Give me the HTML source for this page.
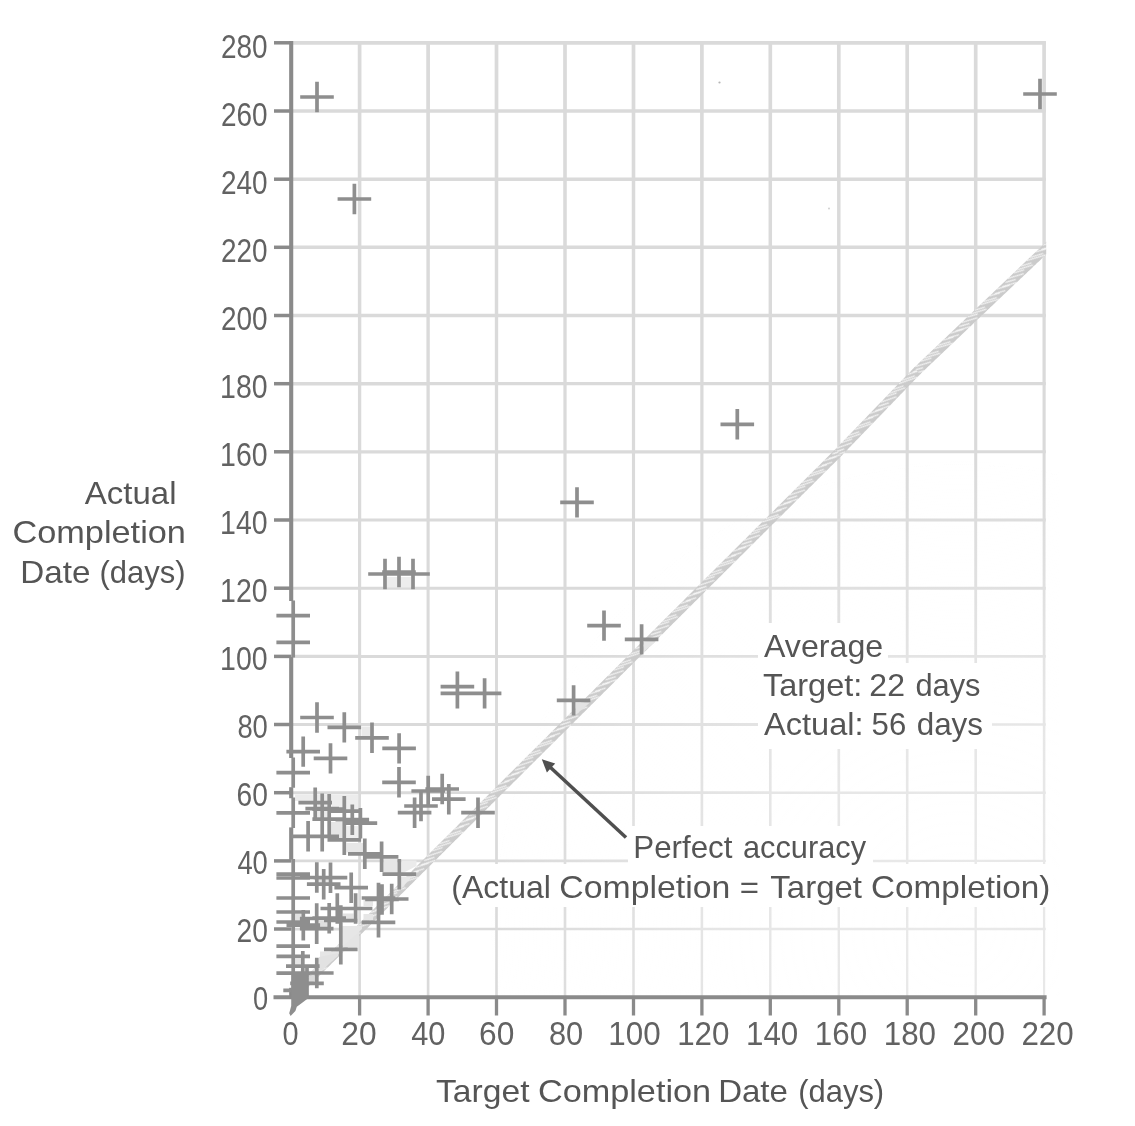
<!DOCTYPE html>
<html><head><meta charset="utf-8"><title>Chart</title>
<style>
html,body{margin:0;padding:0;background:#fff;}
body{width:1135px;height:1126px;overflow:hidden;font-family:"Liberation Sans",sans-serif;}
svg{display:block;}
svg text{font-family:"Liberation Sans",sans-serif;}
</style></head><body>
<svg width="1135" height="1126" viewBox="0 0 1135 1126">
<defs><filter id="soft" x="-5%" y="-5%" width="110%" height="110%"><feGaussianBlur stdDeviation="0.75"/></filter>
<pattern id="rope" patternUnits="userSpaceOnUse" x="0" y="-4.5" width="64" height="9.0">
<rect width="64" height="9.0" fill="#cbcbcb"/>
<g stroke="#ffffff" stroke-width="1.15" stroke-linecap="butt" stroke-opacity="0.8"><line x1="1.0" y1="0.0" x2="15.9" y2="7.6"/><line x1="9.0" y1="0.0" x2="18.7" y2="5.0"/><line x1="13.5" y1="0.0" x2="28.4" y2="7.6"/><line x1="19.0" y1="0.0" x2="28.7" y2="5.0"/><line x1="27.0" y1="0.0" x2="44.5" y2="9.0"/><line x1="31.5" y1="0.0" x2="43.8" y2="6.3"/><line x1="39.5" y1="0.0" x2="49.2" y2="5.0"/><line x1="45.0" y1="2.0" x2="54.7" y2="7.0"/><line x1="49.5" y1="0.0" x2="61.8" y2="6.3"/><line x1="55.0" y1="2.0" x2="68.7" y2="9.0"/><line x1="60.5" y1="1.2" x2="70.2" y2="6.2"/><line x1="-9.0" y1="2.0" x2="4.7" y2="9.0"/><line x1="-3.5" y1="1.2" x2="6.2" y2="6.2"/></g></pattern>
<clipPath id="plotclip"><rect x="289" y="38" width="757.2" height="962"/></clipPath>
<radialGradient id="fade" gradientUnits="userSpaceOnUse" cx="960" cy="930" r="470">
<stop offset="0" stop-color="#ffffff" stop-opacity="0.42"/><stop offset="0.5" stop-color="#ffffff" stop-opacity="0.33"/><stop offset="1" stop-color="#ffffff" stop-opacity="0"/>
</radialGradient></defs>
<rect width="1135" height="1126" fill="#ffffff"/>
<g filter="url(#soft)">
<g stroke="#dadada" fill="none" stroke-linecap="butt">
<line x1="359.6" y1="928.7" x2="359.6" y2="997.5" stroke-width="2.69"/>
<line x1="359.6" y1="860.6" x2="359.6" y2="929.3" stroke-width="2.77"/>
<line x1="359.6" y1="792.4" x2="359.6" y2="861.2" stroke-width="2.85"/>
<line x1="359.6" y1="724.2" x2="359.6" y2="793.0" stroke-width="2.92"/>
<line x1="359.6" y1="656.1" x2="359.6" y2="724.8" stroke-width="3.00"/>
<line x1="359.6" y1="587.9" x2="359.6" y2="656.6" stroke-width="3.08"/>
<line x1="359.6" y1="519.7" x2="359.6" y2="588.5" stroke-width="3.16"/>
<line x1="359.6" y1="451.5" x2="359.6" y2="520.3" stroke-width="3.24"/>
<line x1="359.6" y1="383.4" x2="359.6" y2="452.1" stroke-width="3.32"/>
<line x1="359.6" y1="315.2" x2="359.6" y2="384.0" stroke-width="3.40"/>
<line x1="359.6" y1="247.0" x2="359.6" y2="315.8" stroke-width="3.48"/>
<line x1="359.6" y1="178.9" x2="359.6" y2="247.6" stroke-width="3.55"/>
<line x1="359.6" y1="110.7" x2="359.6" y2="179.5" stroke-width="3.63"/>
<line x1="359.6" y1="41.3" x2="359.6" y2="111.3" stroke-width="3.71"/>
<line x1="428.1" y1="928.7" x2="428.1" y2="997.5" stroke-width="2.64"/>
<line x1="428.1" y1="860.6" x2="428.1" y2="929.3" stroke-width="2.72"/>
<line x1="428.1" y1="792.4" x2="428.1" y2="861.2" stroke-width="2.81"/>
<line x1="428.1" y1="724.2" x2="428.1" y2="793.0" stroke-width="2.89"/>
<line x1="428.1" y1="656.1" x2="428.1" y2="724.8" stroke-width="2.97"/>
<line x1="428.1" y1="587.9" x2="428.1" y2="656.6" stroke-width="3.05"/>
<line x1="428.1" y1="519.7" x2="428.1" y2="588.5" stroke-width="3.13"/>
<line x1="428.1" y1="451.5" x2="428.1" y2="520.3" stroke-width="3.22"/>
<line x1="428.1" y1="383.4" x2="428.1" y2="452.1" stroke-width="3.30"/>
<line x1="428.1" y1="315.2" x2="428.1" y2="384.0" stroke-width="3.38"/>
<line x1="428.1" y1="247.0" x2="428.1" y2="315.8" stroke-width="3.46"/>
<line x1="428.1" y1="178.9" x2="428.1" y2="247.6" stroke-width="3.54"/>
<line x1="428.1" y1="110.7" x2="428.1" y2="179.5" stroke-width="3.63"/>
<line x1="428.1" y1="41.3" x2="428.1" y2="111.3" stroke-width="3.71"/>
<line x1="496.5" y1="928.7" x2="496.5" y2="997.5" stroke-width="2.59"/>
<line x1="496.5" y1="860.6" x2="496.5" y2="929.3" stroke-width="2.68"/>
<line x1="496.5" y1="792.4" x2="496.5" y2="861.2" stroke-width="2.76"/>
<line x1="496.5" y1="724.2" x2="496.5" y2="793.0" stroke-width="2.85"/>
<line x1="496.5" y1="656.1" x2="496.5" y2="724.8" stroke-width="2.94"/>
<line x1="496.5" y1="587.9" x2="496.5" y2="656.6" stroke-width="3.02"/>
<line x1="496.5" y1="519.7" x2="496.5" y2="588.5" stroke-width="3.11"/>
<line x1="496.5" y1="451.5" x2="496.5" y2="520.3" stroke-width="3.19"/>
<line x1="496.5" y1="383.4" x2="496.5" y2="452.1" stroke-width="3.28"/>
<line x1="496.5" y1="315.2" x2="496.5" y2="384.0" stroke-width="3.36"/>
<line x1="496.5" y1="247.0" x2="496.5" y2="315.8" stroke-width="3.45"/>
<line x1="496.5" y1="178.9" x2="496.5" y2="247.6" stroke-width="3.54"/>
<line x1="496.5" y1="110.7" x2="496.5" y2="179.5" stroke-width="3.62"/>
<line x1="496.5" y1="41.3" x2="496.5" y2="111.3" stroke-width="3.71"/>
<line x1="565.0" y1="928.7" x2="565.0" y2="997.5" stroke-width="2.54"/>
<line x1="565.0" y1="860.6" x2="565.0" y2="929.3" stroke-width="2.63"/>
<line x1="565.0" y1="792.4" x2="565.0" y2="861.2" stroke-width="2.72"/>
<line x1="565.0" y1="724.2" x2="565.0" y2="793.0" stroke-width="2.81"/>
<line x1="565.0" y1="656.1" x2="565.0" y2="724.8" stroke-width="2.90"/>
<line x1="565.0" y1="587.9" x2="565.0" y2="656.6" stroke-width="2.99"/>
<line x1="565.0" y1="519.7" x2="565.0" y2="588.5" stroke-width="3.08"/>
<line x1="565.0" y1="451.5" x2="565.0" y2="520.3" stroke-width="3.17"/>
<line x1="565.0" y1="383.4" x2="565.0" y2="452.1" stroke-width="3.26"/>
<line x1="565.0" y1="315.2" x2="565.0" y2="384.0" stroke-width="3.35"/>
<line x1="565.0" y1="247.0" x2="565.0" y2="315.8" stroke-width="3.44"/>
<line x1="565.0" y1="178.9" x2="565.0" y2="247.6" stroke-width="3.53"/>
<line x1="565.0" y1="110.7" x2="565.0" y2="179.5" stroke-width="3.62"/>
<line x1="565.0" y1="41.3" x2="565.0" y2="111.3" stroke-width="3.71"/>
<line x1="633.5" y1="928.7" x2="633.5" y2="997.5" stroke-width="2.50"/>
<line x1="633.5" y1="860.6" x2="633.5" y2="929.3" stroke-width="2.59"/>
<line x1="633.5" y1="792.4" x2="633.5" y2="861.2" stroke-width="2.68"/>
<line x1="633.5" y1="724.2" x2="633.5" y2="793.0" stroke-width="2.77"/>
<line x1="633.5" y1="656.1" x2="633.5" y2="724.8" stroke-width="2.87"/>
<line x1="633.5" y1="587.9" x2="633.5" y2="656.6" stroke-width="2.96"/>
<line x1="633.5" y1="519.7" x2="633.5" y2="588.5" stroke-width="3.05"/>
<line x1="633.5" y1="451.5" x2="633.5" y2="520.3" stroke-width="3.15"/>
<line x1="633.5" y1="383.4" x2="633.5" y2="452.1" stroke-width="3.24"/>
<line x1="633.5" y1="315.2" x2="633.5" y2="384.0" stroke-width="3.33"/>
<line x1="633.5" y1="247.0" x2="633.5" y2="315.8" stroke-width="3.43"/>
<line x1="633.5" y1="178.9" x2="633.5" y2="247.6" stroke-width="3.52"/>
<line x1="633.5" y1="110.7" x2="633.5" y2="179.5" stroke-width="3.61"/>
<line x1="633.5" y1="41.3" x2="633.5" y2="111.3" stroke-width="3.70"/>
<line x1="701.9" y1="928.7" x2="701.9" y2="997.5" stroke-width="2.45"/>
<line x1="701.9" y1="860.6" x2="701.9" y2="929.3" stroke-width="2.54"/>
<line x1="701.9" y1="792.4" x2="701.9" y2="861.2" stroke-width="2.64"/>
<line x1="701.9" y1="724.2" x2="701.9" y2="793.0" stroke-width="2.74"/>
<line x1="701.9" y1="656.1" x2="701.9" y2="724.8" stroke-width="2.83"/>
<line x1="701.9" y1="587.9" x2="701.9" y2="656.6" stroke-width="2.93"/>
<line x1="701.9" y1="519.7" x2="701.9" y2="588.5" stroke-width="3.03"/>
<line x1="701.9" y1="451.5" x2="701.9" y2="520.3" stroke-width="3.12"/>
<line x1="701.9" y1="383.4" x2="701.9" y2="452.1" stroke-width="3.22"/>
<line x1="701.9" y1="315.2" x2="701.9" y2="384.0" stroke-width="3.32"/>
<line x1="701.9" y1="247.0" x2="701.9" y2="315.8" stroke-width="3.41"/>
<line x1="701.9" y1="178.9" x2="701.9" y2="247.6" stroke-width="3.51"/>
<line x1="701.9" y1="110.7" x2="701.9" y2="179.5" stroke-width="3.61"/>
<line x1="701.9" y1="41.3" x2="701.9" y2="111.3" stroke-width="3.70"/>
<line x1="770.3" y1="928.7" x2="770.3" y2="997.5" stroke-width="2.40"/>
<line x1="770.3" y1="860.6" x2="770.3" y2="929.3" stroke-width="2.50"/>
<line x1="770.3" y1="792.4" x2="770.3" y2="861.2" stroke-width="2.60"/>
<line x1="770.3" y1="724.2" x2="770.3" y2="793.0" stroke-width="2.70"/>
<line x1="770.3" y1="656.1" x2="770.3" y2="724.8" stroke-width="2.80"/>
<line x1="770.3" y1="587.9" x2="770.3" y2="656.6" stroke-width="2.90"/>
<line x1="770.3" y1="519.7" x2="770.3" y2="588.5" stroke-width="3.00"/>
<line x1="770.3" y1="451.5" x2="770.3" y2="520.3" stroke-width="3.10"/>
<line x1="770.3" y1="383.4" x2="770.3" y2="452.1" stroke-width="3.20"/>
<line x1="770.3" y1="315.2" x2="770.3" y2="384.0" stroke-width="3.30"/>
<line x1="770.3" y1="247.0" x2="770.3" y2="315.8" stroke-width="3.40"/>
<line x1="770.3" y1="178.9" x2="770.3" y2="247.6" stroke-width="3.50"/>
<line x1="770.3" y1="110.7" x2="770.3" y2="179.5" stroke-width="3.60"/>
<line x1="770.3" y1="41.3" x2="770.3" y2="111.3" stroke-width="3.70"/>
<line x1="838.8" y1="928.7" x2="838.8" y2="997.5" stroke-width="2.35"/>
<line x1="838.8" y1="860.6" x2="838.8" y2="929.3" stroke-width="2.46"/>
<line x1="838.8" y1="792.4" x2="838.8" y2="861.2" stroke-width="2.56"/>
<line x1="838.8" y1="724.2" x2="838.8" y2="793.0" stroke-width="2.66"/>
<line x1="838.8" y1="656.1" x2="838.8" y2="724.8" stroke-width="2.77"/>
<line x1="838.8" y1="587.9" x2="838.8" y2="656.6" stroke-width="2.87"/>
<line x1="838.8" y1="519.7" x2="838.8" y2="588.5" stroke-width="2.97"/>
<line x1="838.8" y1="451.5" x2="838.8" y2="520.3" stroke-width="3.08"/>
<line x1="838.8" y1="383.4" x2="838.8" y2="452.1" stroke-width="3.18"/>
<line x1="838.8" y1="315.2" x2="838.8" y2="384.0" stroke-width="3.28"/>
<line x1="838.8" y1="247.0" x2="838.8" y2="315.8" stroke-width="3.39"/>
<line x1="838.8" y1="178.9" x2="838.8" y2="247.6" stroke-width="3.49"/>
<line x1="838.8" y1="110.7" x2="838.8" y2="179.5" stroke-width="3.59"/>
<line x1="838.8" y1="41.3" x2="838.8" y2="111.3" stroke-width="3.70"/>
<line x1="907.2" y1="928.7" x2="907.2" y2="997.5" stroke-width="2.30"/>
<line x1="907.2" y1="860.6" x2="907.2" y2="929.3" stroke-width="2.41"/>
<line x1="907.2" y1="792.4" x2="907.2" y2="861.2" stroke-width="2.52"/>
<line x1="907.2" y1="724.2" x2="907.2" y2="793.0" stroke-width="2.62"/>
<line x1="907.2" y1="656.1" x2="907.2" y2="724.8" stroke-width="2.73"/>
<line x1="907.2" y1="587.9" x2="907.2" y2="656.6" stroke-width="2.84"/>
<line x1="907.2" y1="519.7" x2="907.2" y2="588.5" stroke-width="2.95"/>
<line x1="907.2" y1="451.5" x2="907.2" y2="520.3" stroke-width="3.05"/>
<line x1="907.2" y1="383.4" x2="907.2" y2="452.1" stroke-width="3.16"/>
<line x1="907.2" y1="315.2" x2="907.2" y2="384.0" stroke-width="3.27"/>
<line x1="907.2" y1="247.0" x2="907.2" y2="315.8" stroke-width="3.38"/>
<line x1="907.2" y1="178.9" x2="907.2" y2="247.6" stroke-width="3.48"/>
<line x1="907.2" y1="110.7" x2="907.2" y2="179.5" stroke-width="3.59"/>
<line x1="907.2" y1="41.3" x2="907.2" y2="111.3" stroke-width="3.70"/>
<line x1="975.7" y1="928.7" x2="975.7" y2="997.5" stroke-width="2.26"/>
<line x1="975.7" y1="860.6" x2="975.7" y2="929.3" stroke-width="2.37"/>
<line x1="975.7" y1="792.4" x2="975.7" y2="861.2" stroke-width="2.48"/>
<line x1="975.7" y1="724.2" x2="975.7" y2="793.0" stroke-width="2.59"/>
<line x1="975.7" y1="656.1" x2="975.7" y2="724.8" stroke-width="2.70"/>
<line x1="975.7" y1="587.9" x2="975.7" y2="656.6" stroke-width="2.81"/>
<line x1="975.7" y1="519.7" x2="975.7" y2="588.5" stroke-width="2.92"/>
<line x1="975.7" y1="451.5" x2="975.7" y2="520.3" stroke-width="3.03"/>
<line x1="975.7" y1="383.4" x2="975.7" y2="452.1" stroke-width="3.14"/>
<line x1="975.7" y1="315.2" x2="975.7" y2="384.0" stroke-width="3.25"/>
<line x1="975.7" y1="247.0" x2="975.7" y2="315.8" stroke-width="3.36"/>
<line x1="975.7" y1="178.9" x2="975.7" y2="247.6" stroke-width="3.47"/>
<line x1="975.7" y1="110.7" x2="975.7" y2="179.5" stroke-width="3.58"/>
<line x1="975.7" y1="41.3" x2="975.7" y2="111.3" stroke-width="3.70"/>
<line x1="1044.1" y1="928.7" x2="1044.1" y2="997.5" stroke-width="2.21"/>
<line x1="1044.1" y1="860.6" x2="1044.1" y2="929.3" stroke-width="2.32"/>
<line x1="1044.1" y1="792.4" x2="1044.1" y2="861.2" stroke-width="2.44"/>
<line x1="1044.1" y1="724.2" x2="1044.1" y2="793.0" stroke-width="2.55"/>
<line x1="1044.1" y1="656.1" x2="1044.1" y2="724.8" stroke-width="2.66"/>
<line x1="1044.1" y1="587.9" x2="1044.1" y2="656.6" stroke-width="2.78"/>
<line x1="1044.1" y1="519.7" x2="1044.1" y2="588.5" stroke-width="2.89"/>
<line x1="1044.1" y1="451.5" x2="1044.1" y2="520.3" stroke-width="3.01"/>
<line x1="1044.1" y1="383.4" x2="1044.1" y2="452.1" stroke-width="3.12"/>
<line x1="1044.1" y1="315.2" x2="1044.1" y2="384.0" stroke-width="3.24"/>
<line x1="1044.1" y1="247.0" x2="1044.1" y2="315.8" stroke-width="3.35"/>
<line x1="1044.1" y1="178.9" x2="1044.1" y2="247.6" stroke-width="3.46"/>
<line x1="1044.1" y1="110.7" x2="1044.1" y2="179.5" stroke-width="3.58"/>
<line x1="1044.1" y1="41.3" x2="1044.1" y2="111.3" stroke-width="3.69"/>
<line x1="290.9" y1="929.0" x2="359.9" y2="929.0" stroke-width="2.75"/>
<line x1="359.3" y1="929.0" x2="428.4" y2="929.0" stroke-width="2.71"/>
<line x1="427.8" y1="929.0" x2="496.8" y2="929.0" stroke-width="2.66"/>
<line x1="496.2" y1="929.0" x2="565.3" y2="929.0" stroke-width="2.61"/>
<line x1="564.7" y1="929.0" x2="633.8" y2="929.0" stroke-width="2.57"/>
<line x1="633.2" y1="929.0" x2="702.2" y2="929.0" stroke-width="2.52"/>
<line x1="701.6" y1="929.0" x2="770.6" y2="929.0" stroke-width="2.47"/>
<line x1="770.0" y1="929.0" x2="839.1" y2="929.0" stroke-width="2.43"/>
<line x1="838.5" y1="929.0" x2="907.5" y2="929.0" stroke-width="2.38"/>
<line x1="907.0" y1="929.0" x2="976.0" y2="929.0" stroke-width="2.33"/>
<line x1="975.4" y1="929.0" x2="1045.8" y2="929.0" stroke-width="2.29"/>
<line x1="290.9" y1="860.9" x2="359.9" y2="860.9" stroke-width="2.83"/>
<line x1="359.3" y1="860.9" x2="428.4" y2="860.9" stroke-width="2.79"/>
<line x1="427.8" y1="860.9" x2="496.8" y2="860.9" stroke-width="2.74"/>
<line x1="496.2" y1="860.9" x2="565.3" y2="860.9" stroke-width="2.70"/>
<line x1="564.7" y1="860.9" x2="633.8" y2="860.9" stroke-width="2.66"/>
<line x1="633.2" y1="860.9" x2="702.2" y2="860.9" stroke-width="2.61"/>
<line x1="701.6" y1="860.9" x2="770.6" y2="860.9" stroke-width="2.57"/>
<line x1="770.0" y1="860.9" x2="839.1" y2="860.9" stroke-width="2.53"/>
<line x1="838.5" y1="860.9" x2="907.5" y2="860.9" stroke-width="2.49"/>
<line x1="907.0" y1="860.9" x2="976.0" y2="860.9" stroke-width="2.44"/>
<line x1="975.4" y1="860.9" x2="1045.8" y2="860.9" stroke-width="2.40"/>
<line x1="290.9" y1="792.7" x2="359.9" y2="792.7" stroke-width="2.91"/>
<line x1="359.3" y1="792.7" x2="428.4" y2="792.7" stroke-width="2.87"/>
<line x1="427.8" y1="792.7" x2="496.8" y2="792.7" stroke-width="2.83"/>
<line x1="496.2" y1="792.7" x2="565.3" y2="792.7" stroke-width="2.79"/>
<line x1="564.7" y1="792.7" x2="633.8" y2="792.7" stroke-width="2.75"/>
<line x1="633.2" y1="792.7" x2="702.2" y2="792.7" stroke-width="2.71"/>
<line x1="701.6" y1="792.7" x2="770.6" y2="792.7" stroke-width="2.67"/>
<line x1="770.0" y1="792.7" x2="839.1" y2="792.7" stroke-width="2.63"/>
<line x1="838.5" y1="792.7" x2="907.5" y2="792.7" stroke-width="2.59"/>
<line x1="907.0" y1="792.7" x2="976.0" y2="792.7" stroke-width="2.55"/>
<line x1="975.4" y1="792.7" x2="1045.8" y2="792.7" stroke-width="2.51"/>
<line x1="290.9" y1="724.5" x2="359.9" y2="724.5" stroke-width="2.98"/>
<line x1="359.3" y1="724.5" x2="428.4" y2="724.5" stroke-width="2.95"/>
<line x1="427.8" y1="724.5" x2="496.8" y2="724.5" stroke-width="2.91"/>
<line x1="496.2" y1="724.5" x2="565.3" y2="724.5" stroke-width="2.87"/>
<line x1="564.7" y1="724.5" x2="633.8" y2="724.5" stroke-width="2.84"/>
<line x1="633.2" y1="724.5" x2="702.2" y2="724.5" stroke-width="2.80"/>
<line x1="701.6" y1="724.5" x2="770.6" y2="724.5" stroke-width="2.77"/>
<line x1="770.0" y1="724.5" x2="839.1" y2="724.5" stroke-width="2.73"/>
<line x1="838.5" y1="724.5" x2="907.5" y2="724.5" stroke-width="2.70"/>
<line x1="907.0" y1="724.5" x2="976.0" y2="724.5" stroke-width="2.66"/>
<line x1="975.4" y1="724.5" x2="1045.8" y2="724.5" stroke-width="2.62"/>
<line x1="290.9" y1="656.4" x2="359.9" y2="656.4" stroke-width="3.06"/>
<line x1="359.3" y1="656.4" x2="428.4" y2="656.4" stroke-width="3.03"/>
<line x1="427.8" y1="656.4" x2="496.8" y2="656.4" stroke-width="2.99"/>
<line x1="496.2" y1="656.4" x2="565.3" y2="656.4" stroke-width="2.96"/>
<line x1="564.7" y1="656.4" x2="633.8" y2="656.4" stroke-width="2.93"/>
<line x1="633.2" y1="656.4" x2="702.2" y2="656.4" stroke-width="2.90"/>
<line x1="701.6" y1="656.4" x2="770.6" y2="656.4" stroke-width="2.87"/>
<line x1="770.0" y1="656.4" x2="839.1" y2="656.4" stroke-width="2.83"/>
<line x1="838.5" y1="656.4" x2="907.5" y2="656.4" stroke-width="2.80"/>
<line x1="907.0" y1="656.4" x2="976.0" y2="656.4" stroke-width="2.77"/>
<line x1="975.4" y1="656.4" x2="1045.8" y2="656.4" stroke-width="2.74"/>
<line x1="290.9" y1="588.2" x2="359.9" y2="588.2" stroke-width="3.14"/>
<line x1="359.3" y1="588.2" x2="428.4" y2="588.2" stroke-width="3.11"/>
<line x1="427.8" y1="588.2" x2="496.8" y2="588.2" stroke-width="3.08"/>
<line x1="496.2" y1="588.2" x2="565.3" y2="588.2" stroke-width="3.05"/>
<line x1="564.7" y1="588.2" x2="633.8" y2="588.2" stroke-width="3.02"/>
<line x1="633.2" y1="588.2" x2="702.2" y2="588.2" stroke-width="2.99"/>
<line x1="701.6" y1="588.2" x2="770.6" y2="588.2" stroke-width="2.96"/>
<line x1="770.0" y1="588.2" x2="839.1" y2="588.2" stroke-width="2.94"/>
<line x1="838.5" y1="588.2" x2="907.5" y2="588.2" stroke-width="2.91"/>
<line x1="907.0" y1="588.2" x2="976.0" y2="588.2" stroke-width="2.88"/>
<line x1="975.4" y1="588.2" x2="1045.8" y2="588.2" stroke-width="2.85"/>
<line x1="290.9" y1="520.0" x2="359.9" y2="520.0" stroke-width="3.21"/>
<line x1="359.3" y1="520.0" x2="428.4" y2="520.0" stroke-width="3.19"/>
<line x1="427.8" y1="520.0" x2="496.8" y2="520.0" stroke-width="3.16"/>
<line x1="496.2" y1="520.0" x2="565.3" y2="520.0" stroke-width="3.14"/>
<line x1="564.7" y1="520.0" x2="633.8" y2="520.0" stroke-width="3.11"/>
<line x1="633.2" y1="520.0" x2="702.2" y2="520.0" stroke-width="3.09"/>
<line x1="701.6" y1="520.0" x2="770.6" y2="520.0" stroke-width="3.06"/>
<line x1="770.0" y1="520.0" x2="839.1" y2="520.0" stroke-width="3.04"/>
<line x1="838.5" y1="520.0" x2="907.5" y2="520.0" stroke-width="3.01"/>
<line x1="907.0" y1="520.0" x2="976.0" y2="520.0" stroke-width="2.99"/>
<line x1="975.4" y1="520.0" x2="1045.8" y2="520.0" stroke-width="2.96"/>
<line x1="290.9" y1="451.8" x2="359.9" y2="451.8" stroke-width="3.29"/>
<line x1="359.3" y1="451.8" x2="428.4" y2="451.8" stroke-width="3.27"/>
<line x1="427.8" y1="451.8" x2="496.8" y2="451.8" stroke-width="3.25"/>
<line x1="496.2" y1="451.8" x2="565.3" y2="451.8" stroke-width="3.23"/>
<line x1="564.7" y1="451.8" x2="633.8" y2="451.8" stroke-width="3.20"/>
<line x1="633.2" y1="451.8" x2="702.2" y2="451.8" stroke-width="3.18"/>
<line x1="701.6" y1="451.8" x2="770.6" y2="451.8" stroke-width="3.16"/>
<line x1="770.0" y1="451.8" x2="839.1" y2="451.8" stroke-width="3.14"/>
<line x1="838.5" y1="451.8" x2="907.5" y2="451.8" stroke-width="3.12"/>
<line x1="907.0" y1="451.8" x2="976.0" y2="451.8" stroke-width="3.10"/>
<line x1="975.4" y1="451.8" x2="1045.8" y2="451.8" stroke-width="3.07"/>
<line x1="290.9" y1="383.7" x2="359.9" y2="383.7" stroke-width="3.37"/>
<line x1="359.3" y1="383.7" x2="428.4" y2="383.7" stroke-width="3.35"/>
<line x1="427.8" y1="383.7" x2="496.8" y2="383.7" stroke-width="3.33"/>
<line x1="496.2" y1="383.7" x2="565.3" y2="383.7" stroke-width="3.31"/>
<line x1="564.7" y1="383.7" x2="633.8" y2="383.7" stroke-width="3.29"/>
<line x1="633.2" y1="383.7" x2="702.2" y2="383.7" stroke-width="3.28"/>
<line x1="701.6" y1="383.7" x2="770.6" y2="383.7" stroke-width="3.26"/>
<line x1="770.0" y1="383.7" x2="839.1" y2="383.7" stroke-width="3.24"/>
<line x1="838.5" y1="383.7" x2="907.5" y2="383.7" stroke-width="3.22"/>
<line x1="907.0" y1="383.7" x2="976.0" y2="383.7" stroke-width="3.21"/>
<line x1="975.4" y1="383.7" x2="1045.8" y2="383.7" stroke-width="3.19"/>
<line x1="290.9" y1="315.5" x2="359.9" y2="315.5" stroke-width="3.44"/>
<line x1="359.3" y1="315.5" x2="428.4" y2="315.5" stroke-width="3.43"/>
<line x1="427.8" y1="315.5" x2="496.8" y2="315.5" stroke-width="3.41"/>
<line x1="496.2" y1="315.5" x2="565.3" y2="315.5" stroke-width="3.40"/>
<line x1="564.7" y1="315.5" x2="633.8" y2="315.5" stroke-width="3.39"/>
<line x1="633.2" y1="315.5" x2="702.2" y2="315.5" stroke-width="3.37"/>
<line x1="701.6" y1="315.5" x2="770.6" y2="315.5" stroke-width="3.36"/>
<line x1="770.0" y1="315.5" x2="839.1" y2="315.5" stroke-width="3.34"/>
<line x1="838.5" y1="315.5" x2="907.5" y2="315.5" stroke-width="3.33"/>
<line x1="907.0" y1="315.5" x2="976.0" y2="315.5" stroke-width="3.31"/>
<line x1="975.4" y1="315.5" x2="1045.8" y2="315.5" stroke-width="3.30"/>
<line x1="290.9" y1="247.3" x2="359.9" y2="247.3" stroke-width="3.52"/>
<line x1="359.3" y1="247.3" x2="428.4" y2="247.3" stroke-width="3.51"/>
<line x1="427.8" y1="247.3" x2="496.8" y2="247.3" stroke-width="3.50"/>
<line x1="496.2" y1="247.3" x2="565.3" y2="247.3" stroke-width="3.49"/>
<line x1="564.7" y1="247.3" x2="633.8" y2="247.3" stroke-width="3.48"/>
<line x1="633.2" y1="247.3" x2="702.2" y2="247.3" stroke-width="3.47"/>
<line x1="701.6" y1="247.3" x2="770.6" y2="247.3" stroke-width="3.46"/>
<line x1="770.0" y1="247.3" x2="839.1" y2="247.3" stroke-width="3.44"/>
<line x1="838.5" y1="247.3" x2="907.5" y2="247.3" stroke-width="3.43"/>
<line x1="907.0" y1="247.3" x2="976.0" y2="247.3" stroke-width="3.42"/>
<line x1="975.4" y1="247.3" x2="1045.8" y2="247.3" stroke-width="3.41"/>
<line x1="290.9" y1="179.2" x2="359.9" y2="179.2" stroke-width="3.60"/>
<line x1="359.3" y1="179.2" x2="428.4" y2="179.2" stroke-width="3.59"/>
<line x1="427.8" y1="179.2" x2="496.8" y2="179.2" stroke-width="3.58"/>
<line x1="496.2" y1="179.2" x2="565.3" y2="179.2" stroke-width="3.58"/>
<line x1="564.7" y1="179.2" x2="633.8" y2="179.2" stroke-width="3.57"/>
<line x1="633.2" y1="179.2" x2="702.2" y2="179.2" stroke-width="3.56"/>
<line x1="701.6" y1="179.2" x2="770.6" y2="179.2" stroke-width="3.55"/>
<line x1="770.0" y1="179.2" x2="839.1" y2="179.2" stroke-width="3.55"/>
<line x1="838.5" y1="179.2" x2="907.5" y2="179.2" stroke-width="3.54"/>
<line x1="907.0" y1="179.2" x2="976.0" y2="179.2" stroke-width="3.53"/>
<line x1="975.4" y1="179.2" x2="1045.8" y2="179.2" stroke-width="3.53"/>
<line x1="290.9" y1="111.0" x2="359.9" y2="111.0" stroke-width="3.67"/>
<line x1="359.3" y1="111.0" x2="428.4" y2="111.0" stroke-width="3.67"/>
<line x1="427.8" y1="111.0" x2="496.8" y2="111.0" stroke-width="3.67"/>
<line x1="496.2" y1="111.0" x2="565.3" y2="111.0" stroke-width="3.66"/>
<line x1="564.7" y1="111.0" x2="633.8" y2="111.0" stroke-width="3.66"/>
<line x1="633.2" y1="111.0" x2="702.2" y2="111.0" stroke-width="3.66"/>
<line x1="701.6" y1="111.0" x2="770.6" y2="111.0" stroke-width="3.65"/>
<line x1="770.0" y1="111.0" x2="839.1" y2="111.0" stroke-width="3.65"/>
<line x1="838.5" y1="111.0" x2="907.5" y2="111.0" stroke-width="3.64"/>
<line x1="907.0" y1="111.0" x2="976.0" y2="111.0" stroke-width="3.64"/>
<line x1="975.4" y1="111.0" x2="1045.8" y2="111.0" stroke-width="3.64"/>
<line x1="290.9" y1="42.8" x2="359.9" y2="42.8" stroke-width="3.75"/>
<line x1="359.3" y1="42.8" x2="428.4" y2="42.8" stroke-width="3.75"/>
<line x1="427.8" y1="42.8" x2="496.8" y2="42.8" stroke-width="3.75"/>
<line x1="496.2" y1="42.8" x2="565.3" y2="42.8" stroke-width="3.75"/>
<line x1="564.7" y1="42.8" x2="633.8" y2="42.8" stroke-width="3.75"/>
<line x1="633.2" y1="42.8" x2="702.2" y2="42.8" stroke-width="3.75"/>
<line x1="701.6" y1="42.8" x2="770.6" y2="42.8" stroke-width="3.75"/>
<line x1="770.0" y1="42.8" x2="839.1" y2="42.8" stroke-width="3.75"/>
<line x1="838.5" y1="42.8" x2="907.5" y2="42.8" stroke-width="3.75"/>
<line x1="907.0" y1="42.8" x2="976.0" y2="42.8" stroke-width="3.75"/>
<line x1="975.4" y1="42.8" x2="1045.8" y2="42.8" stroke-width="3.75"/>
</g>
<rect x="480" y="450" width="580" height="546" fill="url(#fade)"/>
<g clip-path="url(#plotclip)"><g transform="translate(292.91 995.90) rotate(-44.888)"><rect x="-0.6" y="-4.5" width="771.7" height="9" fill="url(#rope)"/></g><g transform="translate(838.80 452.14) rotate(-45.993)"><rect x="-0.6" y="-4.5" width="114.5" height="9" fill="url(#rope)"/></g><g transform="translate(917.52 370.64) rotate(-43.582)"><rect x="-0.6" y="-4.5" width="190.0" height="9" fill="url(#rope)"/></g></g>
<rect x="330.5" y="822" width="13.5" height="16" fill="#e6e6e6"/>
<rect x="346.5" y="826" width="13.5" height="13" fill="#eeeeee"/>
<rect x="346.5" y="843" width="16.5" height="9.5" fill="#e7e7e7"/>
<rect x="317" y="804" width="10.5" height="13" fill="#ececec"/>
<rect x="383.5" y="859.5" width="13.5" height="13" fill="#e6e6e6"/>
<rect x="343" y="913.5" width="10.5" height="9.5" fill="#e2e2e2"/>
<rect x="363.5" y="900" width="9.5" height="6" fill="#e6e6e6"/>
<rect x="363.5" y="914" width="9.5" height="6" fill="#e6e6e6"/>
<rect x="343" y="928.5" width="16" height="18.5" fill="#e4e4e4"/>
<rect x="387" y="577" width="24" height="10.5" fill="#ededed"/>
<rect x="361.5" y="726.5" width="9" height="9.5" fill="#e9e9e9"/>
<rect x="295" y="959" width="6" height="5" fill="#e6e6e6"/>
<rect x="309" y="976" width="6" height="5.5" fill="#dadada"/>
<rect x="295" y="794.5" width="63" height="6.5" fill="#ececec"/>
<rect x="332" y="800" width="26" height="10" fill="#efefef"/>
<rect x="318.5" y="879.5" width="10" height="3.5" fill="#e6e6e6"/>
<rect x="295" y="914" width="6.5" height="6" fill="#e2e2e2"/>
<rect x="318.5" y="921" width="9" height="6" fill="#e0e0e0"/>
<polygon points="401.3,860.5 416.5,860.5 416.5,866 403,873 401.3,873" fill="#ebebeb"/>
<polygon points="401,876.5 412,876.5 401,889" fill="#e9e9e9"/>
<polygon points="575.5,702.5 590,702.5 575.5,715" fill="#e4e4e4"/>
<polygon points="643.5,641.5 656,641.5 643.5,652" fill="#e6e6e6"/>
<polygon points="342,926 362,926 362,929 344,945 342,945" fill="#e6e6e6"/>
<polygon points="320,951.5 339,951.5 339,953 322,971 320,971" fill="#e6e6e6"/>
<polygon points="319,957 338,953 338,956 322,970 319,970" fill="#e2e2e2"/>
<g fill="#ffffff">
<rect x="758" y="623" width="130" height="40"/>
<rect x="758" y="663" width="234" height="86"/>
<rect x="628" y="826" width="245" height="38"/>
<rect x="447" y="864" width="606" height="43"/>
</g>
<g stroke="#8a8a8a" stroke-width="4.1" fill="none">
<line x1="291.2" y1="41.0" x2="291.2" y2="601.0"/>
<line x1="291.2" y1="657.0" x2="291.2" y2="758.0"/>
<line x1="291.2" y1="787.2" x2="291.2" y2="798.2"/>
<line x1="291.2" y1="827.4" x2="291.2" y2="859.6"/>
<line x1="291.2" y1="987.8" x2="291.2" y2="999"/>
<line x1="273.5" y1="997.2" x2="1046.6" y2="997.2"/>
<line x1="274" y1="929.0" x2="291.2" y2="929.0" stroke-width="3.5"/>
<line x1="274" y1="860.9" x2="291.2" y2="860.9" stroke-width="3.5"/>
<line x1="274" y1="792.7" x2="291.2" y2="792.7" stroke-width="3.5"/>
<line x1="274" y1="724.5" x2="291.2" y2="724.5" stroke-width="3.5"/>
<line x1="274" y1="656.4" x2="291.2" y2="656.4" stroke-width="3.5"/>
<line x1="274" y1="588.2" x2="291.2" y2="588.2" stroke-width="3.5"/>
<line x1="274" y1="520.0" x2="291.2" y2="520.0" stroke-width="3.5"/>
<line x1="274" y1="451.8" x2="291.2" y2="451.8" stroke-width="3.5"/>
<line x1="274" y1="383.7" x2="291.2" y2="383.7" stroke-width="3.5"/>
<line x1="274" y1="315.5" x2="291.2" y2="315.5" stroke-width="3.5"/>
<line x1="274" y1="247.3" x2="291.2" y2="247.3" stroke-width="3.5"/>
<line x1="274" y1="179.2" x2="291.2" y2="179.2" stroke-width="3.5"/>
<line x1="274" y1="111.0" x2="291.2" y2="111.0" stroke-width="3.5"/>
<line x1="274" y1="42.8" x2="291.2" y2="42.8" stroke-width="3.5"/>
<line x1="359.6" y1="997.2" x2="359.6" y2="1015.5" stroke-width="3.3"/>
<line x1="428.1" y1="997.2" x2="428.1" y2="1015.5" stroke-width="3.3"/>
<line x1="496.5" y1="997.2" x2="496.5" y2="1015.5" stroke-width="3.3"/>
<line x1="565.0" y1="997.2" x2="565.0" y2="1015.5" stroke-width="3.3"/>
<line x1="633.5" y1="997.2" x2="633.5" y2="1015.5" stroke-width="3.3"/>
<line x1="701.9" y1="997.2" x2="701.9" y2="1015.5" stroke-width="3.3"/>
<line x1="770.3" y1="997.2" x2="770.3" y2="1015.5" stroke-width="3.3"/>
<line x1="838.8" y1="997.2" x2="838.8" y2="1015.5" stroke-width="3.3"/>
<line x1="907.2" y1="997.2" x2="907.2" y2="1015.5" stroke-width="3.3"/>
<line x1="975.7" y1="997.2" x2="975.7" y2="1015.5" stroke-width="3.3"/>
<line x1="1044.1" y1="997.2" x2="1044.1" y2="1015.5" stroke-width="3.3"/>
</g>
<path d="M300.2 97.0h33.6M317.0 81.8v30.4M337.6 199.0h33.6M354.4 183.8v30.4M1023.2 94.0h33.6M1040.0 78.8v30.4M720.5 424.3h33.6M737.3 409.1v30.4M560.2 502.4h33.6M577.0 487.2v30.4M368.2 574.0h33.6M385.0 558.8v30.4M382.2 572.0h33.6M399.0 556.8v30.4M396.2 574.0h33.6M413.0 558.8v30.4M587.2 625.6h33.6M604.0 610.4v30.4M624.8 639.4h33.6M641.6 624.2v30.4M556.8 700.4h33.6M573.6 685.2v30.4M440.6 686.6h33.6M457.4 671.4v30.4M440.6 693.4h33.6M457.4 678.2v30.4M467.8 693.4h33.6M484.6 678.2v30.4M276.4 615.6h33.6M293.2 600.4v30.4M276.4 642.4h33.6M293.2 627.2v30.4M276.4 772.6h33.6M293.2 757.4v30.4M276.4 812.8h33.6M293.2 797.6v30.4M276.4 874.2h33.6M293.2 859.0v30.4M276.4 878.0h33.6M293.2 862.8v30.4M276.4 898.0h33.6M293.2 882.8v30.4M276.4 912.0h33.6M293.2 896.8v30.4M276.4 922.0h33.6M293.2 906.8v30.4M276.4 946.2h33.6M293.2 931.0v30.4M276.4 956.3h33.6M293.2 941.1v30.4M276.4 973.2h33.6M293.2 958.0v30.4M300.2 717.5h33.6M317.0 702.3v30.4M327.5 727.4h33.6M344.3 712.2v30.4M355.2 737.8h33.6M372.0 722.6v30.4M286.4 751.6h33.6M303.2 736.4v30.4M313.7 758.4h33.6M330.5 743.2v30.4M382.3 748.4h33.6M399.1 733.2v30.4M382.2 782.3h33.6M399.0 767.1v30.4M411.4 791.0h33.6M428.2 775.8v30.4M425.4 789.0h33.6M442.2 773.8v30.4M432.0 799.2h33.6M448.8 784.0v30.4M404.2 806.0h33.6M421.0 790.8v30.4M397.8 812.7h33.6M414.6 797.5v30.4M461.2 812.7h33.6M478.0 797.5v30.4M298.4 802.6h33.6M315.2 787.4v30.4M305.4 808.7h33.6M322.2 793.5v30.4M312.4 809.2h33.6M329.2 794.0v30.4M327.5 811.2h33.6M344.3 796.0v30.4M312.4 819.2h33.6M329.2 804.0v30.4M335.5 819.7h33.6M352.3 804.5v30.4M343.6 823.2h33.6M360.4 808.0v30.4M291.3 836.3h33.6M308.1 821.1v30.4M305.4 836.3h33.6M322.2 821.1v30.4M327.5 839.8h33.6M344.3 824.6v30.4M348.0 853.8h33.6M364.8 838.6v30.4M364.8 856.8h33.6M381.6 841.6v30.4M300.0 877.5h33.6M316.8 862.3v30.4M306.9 884.2h33.6M323.7 869.0v30.4M313.7 877.7h33.6M330.5 862.5v30.4M334.4 887.7h33.6M351.2 872.5v30.4M382.5 874.2h33.6M399.3 859.0v30.4M361.7 898.0h33.6M378.5 882.8v30.4M365.2 899.5h33.6M382.0 884.3v30.4M374.9 899.0h33.6M391.7 883.8v30.4M299.9 918.5h33.6M316.7 903.3v30.4M299.9 928.7h33.6M316.7 913.5v30.4M286.5 925.2h33.6M303.3 910.0v30.4M312.4 918.2h33.6M329.2 903.0v30.4M320.5 908.5h33.6M337.3 893.3v30.4M324.0 920.5h33.6M340.8 905.3v30.4M338.8 908.5h33.6M355.6 893.3v30.4M361.7 922.3h33.6M378.5 907.1v30.4M324.0 949.4h33.6M340.8 934.2v30.4M300.0 973.0h33.6M316.8 957.8v30.4M290.2 983.3h33.6M307.0 968.1v30.4M286.0 966.2h33.6M302.8 951.0v30.4M283.3 990.3H296" stroke="#8e8e8e" stroke-width="3.7" fill="none"/>
<polygon points="291.4,975 307.8,975 307.8,995 307.8,998.5 302.9,1002.2 296.8,1006.8 295.4,1011 290.6,1016 289.2,1013.2 291.2,1006" fill="#8e8e8e"/>
<circle cx="719.5" cy="82.5" r="1.1" fill="#b5b5b5"/><circle cx="829" cy="208.5" r="0.9" fill="#cccccc"/>
<g stroke="#4f4f4f" fill="#4f4f4f">
<line x1="626" y1="837.5" x2="550" y2="767" stroke-width="3.5"/>
<polygon points="541.8,759.2 555.2,763.6 546.9,772.4" stroke="none"/>
</g>
<text x="252.99" y="1010.0" font-size="33.5" fill="#626262" textLength="15.15" lengthAdjust="spacingAndGlyphs">0</text>
<text x="236.52" y="942.0" font-size="33.5" fill="#626262" textLength="31.35" lengthAdjust="spacingAndGlyphs">20</text>
<text x="237.38" y="873.9" font-size="33.5" fill="#626262" textLength="30.45" lengthAdjust="spacingAndGlyphs">40</text>
<text x="236.52" y="805.9" font-size="33.5" fill="#626262" textLength="31.35" lengthAdjust="spacingAndGlyphs">60</text>
<text x="237.38" y="737.9" font-size="33.5" fill="#626262" textLength="30.45" lengthAdjust="spacingAndGlyphs">80</text>
<text x="220.05" y="669.9" font-size="33.5" fill="#626262" textLength="47.52" lengthAdjust="spacingAndGlyphs">100</text>
<text x="220.05" y="601.8" font-size="33.5" fill="#626262" textLength="47.52" lengthAdjust="spacingAndGlyphs">120</text>
<text x="220.05" y="533.8" font-size="33.5" fill="#626262" textLength="47.52" lengthAdjust="spacingAndGlyphs">140</text>
<text x="220.05" y="465.8" font-size="33.5" fill="#626262" textLength="47.52" lengthAdjust="spacingAndGlyphs">160</text>
<text x="220.05" y="397.7" font-size="33.5" fill="#626262" textLength="47.52" lengthAdjust="spacingAndGlyphs">180</text>
<text x="220.93" y="329.7" font-size="33.5" fill="#626262" textLength="46.62" lengthAdjust="spacingAndGlyphs">200</text>
<text x="220.93" y="261.7" font-size="33.5" fill="#626262" textLength="46.62" lengthAdjust="spacingAndGlyphs">220</text>
<text x="220.93" y="193.6" font-size="33.5" fill="#626262" textLength="46.62" lengthAdjust="spacingAndGlyphs">240</text>
<text x="220.93" y="125.6" font-size="33.5" fill="#626262" textLength="46.62" lengthAdjust="spacingAndGlyphs">260</text>
<text x="220.93" y="57.6" font-size="33.5" fill="#626262" textLength="46.62" lengthAdjust="spacingAndGlyphs">280</text>
<text x="282.51" y="1045.4" font-size="32.5" fill="#626262" textLength="16.04" lengthAdjust="spacingAndGlyphs">0</text>
<text x="341.31" y="1045.4" font-size="32.5" fill="#626262" textLength="35.28" lengthAdjust="spacingAndGlyphs">20</text>
<text x="411.17" y="1045.4" font-size="32.5" fill="#626262" textLength="34.24" lengthAdjust="spacingAndGlyphs">40</text>
<text x="479.03" y="1045.4" font-size="32.5" fill="#626262" textLength="35.28" lengthAdjust="spacingAndGlyphs">60</text>
<text x="548.89" y="1045.4" font-size="32.5" fill="#626262" textLength="34.24" lengthAdjust="spacingAndGlyphs">80</text>
<text x="608.27" y="1045.4" font-size="32.5" fill="#626262" textLength="52.32" lengthAdjust="spacingAndGlyphs">100</text>
<text x="677.13" y="1045.4" font-size="32.5" fill="#626262" textLength="52.32" lengthAdjust="spacingAndGlyphs">120</text>
<text x="745.99" y="1045.4" font-size="32.5" fill="#626262" textLength="52.32" lengthAdjust="spacingAndGlyphs">140</text>
<text x="814.85" y="1045.4" font-size="32.5" fill="#626262" textLength="52.32" lengthAdjust="spacingAndGlyphs">160</text>
<text x="883.71" y="1045.4" font-size="32.5" fill="#626262" textLength="52.32" lengthAdjust="spacingAndGlyphs">180</text>
<text x="952.57" y="1045.4" font-size="32.5" fill="#626262" textLength="52.32" lengthAdjust="spacingAndGlyphs">200</text>
<text x="1021.43" y="1045.4" font-size="32.5" fill="#626262" textLength="52.32" lengthAdjust="spacingAndGlyphs">220</text>
<text x="84.80" y="503.8" font-size="31.5" fill="#555555" textLength="91.68" lengthAdjust="spacingAndGlyphs">Actual</text>
<text x="12.42" y="543.3" font-size="31.5" fill="#555555" textLength="173.53" lengthAdjust="spacingAndGlyphs">Completion</text>
<text x="20.24" y="583.4" font-size="31.5" fill="#555555" textLength="70.20" lengthAdjust="spacingAndGlyphs">Date</text>
<text x="99.43" y="583.4" font-size="31.5" fill="#555555" textLength="86.07" lengthAdjust="spacingAndGlyphs">(days)</text>
<text x="436.03" y="1102.1" font-size="31.5" fill="#555555" textLength="93.47" lengthAdjust="spacingAndGlyphs">Target</text>
<text x="537.93" y="1102.1" font-size="31.5" fill="#555555" textLength="173.22" lengthAdjust="spacingAndGlyphs">Completion</text>
<text x="718.15" y="1102.1" font-size="31.5" fill="#555555" textLength="69.77" lengthAdjust="spacingAndGlyphs">Date</text>
<text x="798.13" y="1102.1" font-size="31.5" fill="#555555" textLength="86.07" lengthAdjust="spacingAndGlyphs">(days)</text>
<text x="764.00" y="657.0" font-size="31.5" fill="#555555" textLength="119.20" lengthAdjust="spacingAndGlyphs">Average</text>
<text x="762.97" y="696.3" font-size="31.5" fill="#555555" textLength="99.35" lengthAdjust="spacingAndGlyphs">Target:</text>
<text x="869.37" y="696.3" font-size="31.5" fill="#555555" textLength="35.59" lengthAdjust="spacingAndGlyphs">22</text>
<text x="915.42" y="696.3" font-size="31.5" fill="#555555" textLength="65.09" lengthAdjust="spacingAndGlyphs">days</text>
<text x="764.00" y="735.1" font-size="31.5" fill="#555555" textLength="99.52" lengthAdjust="spacingAndGlyphs">Actual:</text>
<text x="871.61" y="735.1" font-size="31.5" fill="#555555" textLength="34.62" lengthAdjust="spacingAndGlyphs">56</text>
<text x="916.70" y="735.1" font-size="31.5" fill="#555555" textLength="66.34" lengthAdjust="spacingAndGlyphs">days</text>
<text x="633.32" y="858.0" font-size="31.5" fill="#555555" textLength="99.08" lengthAdjust="spacingAndGlyphs">Perfect</text>
<text x="742.92" y="858.0" font-size="31.5" fill="#555555" textLength="123.12" lengthAdjust="spacingAndGlyphs">accuracy</text>
<text x="451.27" y="897.6" font-size="31.5" fill="#555555" textLength="99.72" lengthAdjust="spacingAndGlyphs">(Actual</text>
<text x="559.25" y="897.6" font-size="31.5" fill="#555555" textLength="171.06" lengthAdjust="spacingAndGlyphs">Completion</text>
<text x="739.81" y="897.6" font-size="31.5" fill="#555555" textLength="19.27" lengthAdjust="spacingAndGlyphs">=</text>
<text x="770.35" y="897.6" font-size="31.5" fill="#555555" textLength="91.64" lengthAdjust="spacingAndGlyphs">Target</text>
<text x="870.99" y="897.6" font-size="31.5" fill="#555555" textLength="179.44" lengthAdjust="spacingAndGlyphs">Completion)</text>
</g>
</svg>
</body></html>
